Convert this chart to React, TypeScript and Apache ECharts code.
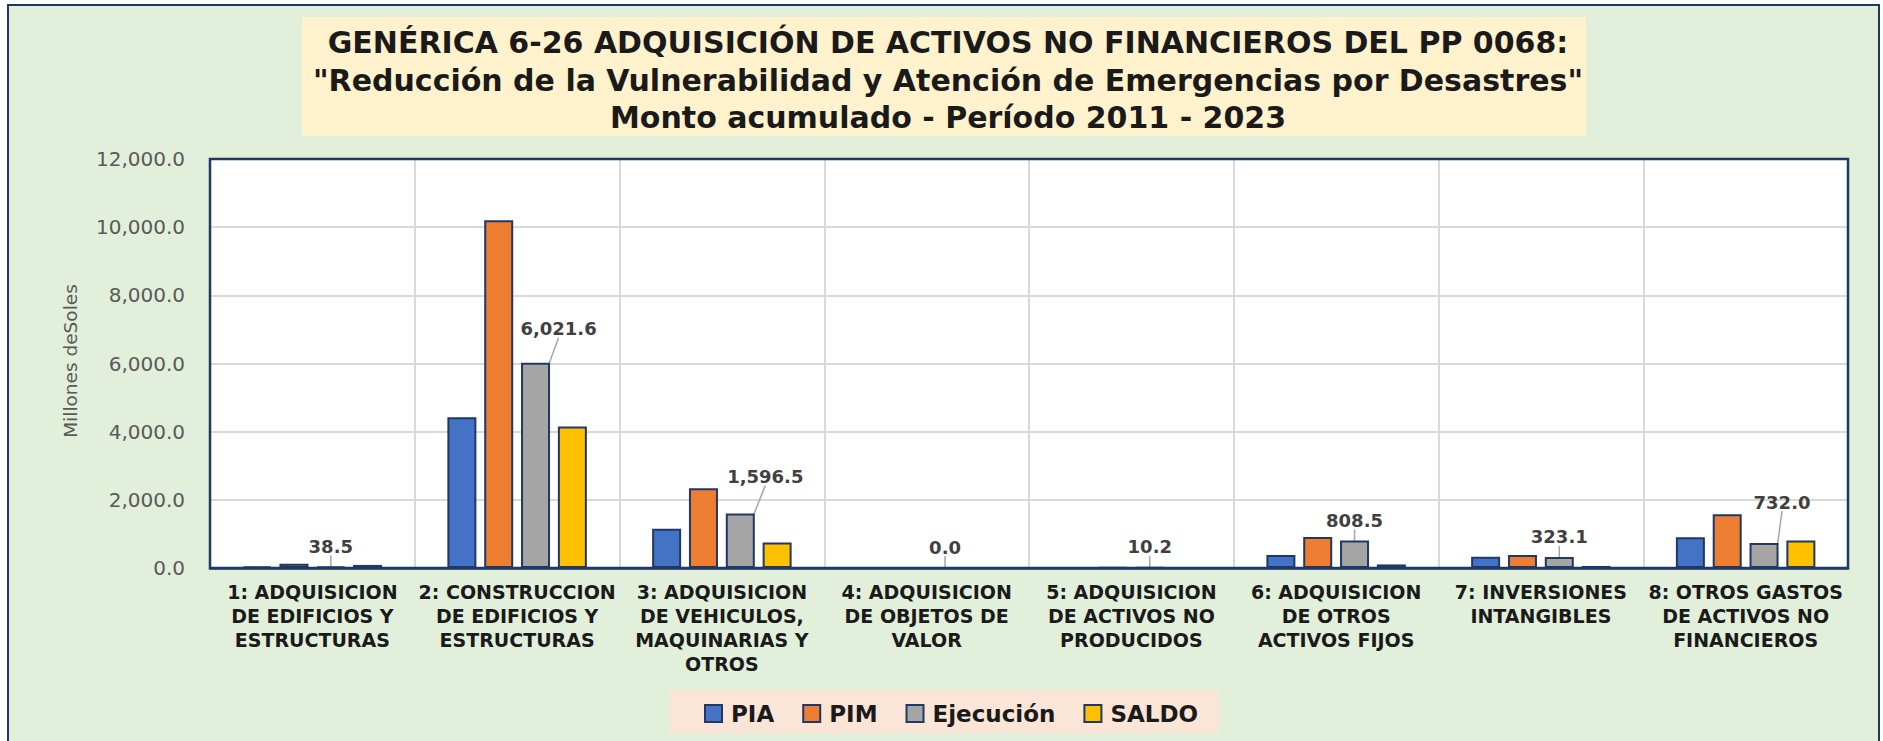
import React, { useEffect, useRef } from "react";
import * as echarts from "echarts";

const categories = [
  "1: ADQUISICION\nDE EDIFICIOS Y\nESTRUCTURAS",
  "2: CONSTRUCCION\nDE EDIFICIOS Y\nESTRUCTURAS",
  "3: ADQUISICION\nDE VEHICULOS,\nMAQUINARIAS Y\nOTROS",
  "4: ADQUISICION\nDE OBJETOS DE\nVALOR",
  "5: ADQUISICION\nDE ACTIVOS NO\nPRODUCIDOS",
  "6: ADQUISICION\nDE OTROS\nACTIVOS FIJOS",
  "7: INVERSIONES\nINTANGIBLES",
  "8: OTROS GASTOS\nDE ACTIVOS NO\nFINANCIEROS",
];
const seriesNames = ["PIA", "PIM", "Ejecución", "SALDO"];
const pia = [45, 4420, 1150, null, 6, 380, 330, 905];
const pim = [128, 10203, 2337, 3, 16, 913, 383, 1575];
const ejecucion = [38.5, 6021.6, 1596.5, 0.0, 10.2, 808.5, 323.1, 732.0];
const saldo = [90, 4155, 750, null, 6, 104.5, 60, 810];
const yTicks = { min: 0, max: 12000, interval: 2000 };
const titleLines = [
  "GENÉRICA 6-26 ADQUISICIÓN DE ACTIVOS NO FINANCIEROS DEL PP 0068:",
  '"Reducción de la Vulnerabilidad y Atención de Emergencias por Desastres"',
  "Monto acumulado - Período 2011 - 2023",
];
const yAxisTitle = "Millones deSoles";

const colors = ["#4472C4", "#ED7D31", "#A5A5A5", "#FFC000"];
const NAVY = "#1F3864";
// label displacement (dx, dy) for Ejecución labels that were moved in the original
const labelShift: Record<number, [number, number]> = {
  1: [23, -14],
  2: [25, -17],
  7: [18, -21],
};

const fmt = (v: number) =>
  Number(v).toLocaleString("en-US", { minimumFractionDigits: 1, maximumFractionDigits: 1 });

const GRID = { left: 210, right: 35, top: 159, bottom: 173 };

export default function App() {
  const ref = useRef<HTMLDivElement>(null);
  useEffect(() => {
    if (!ref.current) return;
    const chart = echarts.init(ref.current, null, { renderer: "svg" });
    const data = [pia, pim, ejecucion, saldo];
    const series = data.map((d, i) => {
      const s: any = {
        name: seriesNames[i],
        type: "bar",
        data: d,
        barWidth: 29,
        barGap: "27%",
        itemStyle: { color: colors[i], borderColor: NAVY, borderWidth: 2 },
      };
      if (i === 2) {
        s.label = {
          show: true,
          position: "top",
          distance: 11,
          formatter: (p: any) => fmt(p.value),
          fontFamily: "DejaVu Sans",
          fontWeight: "bold",
          fontSize: 18,
          color: "#404040",
        };
        s.labelLine = { show: true, lineStyle: { color: "#A6A6A6", width: 1.5 } };
        s.labelLayout = (p: any) => {
          const sh = labelShift[p.dataIndex];
          return sh ? { dx: sh[0], dy: sh[1] } : {};
        };
      }
      return s;
    });

    const W = 1883;
    const H = 741;
    chart.setOption({
      animation: false,
      backgroundColor: "#FFFFFF",
      color: colors,
      graphic: [
        {
          type: "rect",
          z: -10,
          shape: { x: 8, y: 5, width: 1871, height: 760 },
          style: { fill: "#E2EFDA", stroke: NAVY, lineWidth: 2 },
        },
        {
          type: "rect",
          z: -5,
          shape: { x: 302, y: 17, width: 1284, height: 119 },
          style: { fill: "#FFF2CC" },
        },
        {
          type: "text",
          x: 948,
          y: 80,
          style: {
            text: titleLines.join("\n"),
            font: "bold 30px 'DejaVu Sans'",
            fill: "#1A1A1A",
            textAlign: "center",
            textVerticalAlign: "middle",
            lineHeight: 37.5,
          },
        },
        {
          type: "rect",
          z: -5,
          shape: { x: 669, y: 690, width: 550, height: 43 },
          style: { fill: "#FBE5D6" },
        },
        {
          type: "rect",
          z: 100,
          silent: true,
          shape: {
            x: GRID.left,
            y: GRID.top,
            width: W - GRID.left - GRID.right,
            height: H - GRID.top - GRID.bottom,
          },
          style: { fill: "none", stroke: NAVY, lineWidth: 2.5 },
        },
        {
          type: "text",
          x: 70,
          y: 361,
          rotation: Math.PI / 2,
          style: {
            text: yAxisTitle,
            font: "18.5px 'DejaVu Sans'",
            fill: "#595959",
            textAlign: "center",
            textVerticalAlign: "middle",
          },
        },
      ],
      legend: {
        data: seriesNames,
        left: 699,
        top: 697,
        itemWidth: 17,
        itemHeight: 17,
        itemGap: 28,
        icon: "rect",
        itemStyle: { borderColor: NAVY, borderWidth: 2 },
        textStyle: {
          fontFamily: "DejaVu Sans",
          fontWeight: "bold",
          fontSize: 23,
          color: "#1A1A1A",
          padding: [0, 0, 0, 4],
        },
      },
      grid: {
        ...GRID,
        show: true,
        backgroundColor: "#FFFFFF",
        borderColor: NAVY,
        borderWidth: 2,
        containLabel: false,
      },
      xAxis: {
        type: "category",
        data: categories,
        axisTick: { show: false },
        axisLine: { show: true, lineStyle: { color: NAVY, width: 2.5 } },
        splitLine: { show: true, lineStyle: { color: "#D9D9D9", width: 2 } },
        axisLabel: {
          interval: 0,
          margin: 12,
          fontFamily: "DejaVu Sans",
          fontWeight: "bold",
          fontSize: 19,
          lineHeight: 24,
          color: "#1A1A1A",
          verticalAlign: "top",
        },
      },
      yAxis: {
        type: "value",
        min: yTicks.min,
        max: yTicks.max,
        interval: yTicks.interval,
        axisLine: { show: false },
        axisTick: { show: false },
        splitLine: { show: true, lineStyle: { color: "#D9D9D9", width: 2 } },
        axisLabel: {
          margin: 25,
          formatter: (v: number) => fmt(v),
          fontFamily: "DejaVu Sans",
          fontSize: 20,
          color: "#595959",
        },
      },
      series,
    });
    return () => chart.dispose();
  }, []);
  return (
    <div
      ref={ref}
      style={{ position: "fixed", left: 0, top: 0, width: 1883, height: 741 }}
    />
  );
}
